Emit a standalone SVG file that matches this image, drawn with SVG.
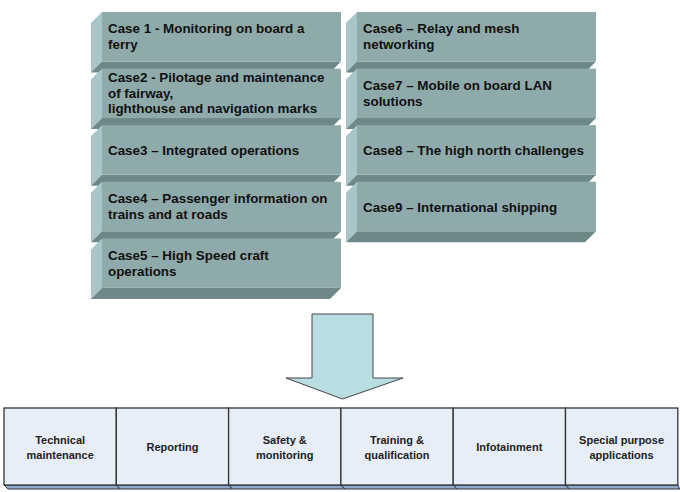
<svg xmlns="http://www.w3.org/2000/svg" width="680" height="492" viewBox="0 0 680 492">
<defs>
<style>
.front{fill:#8FAAAA;}
.side{fill:#A8C6CA;}
.bot{fill:#6E8787;}
.ct{font-family:"Liberation Sans",Arial,sans-serif;font-weight:bold;font-size:13.4px;fill:#111;}
.cell{fill:#E8EEF8;stroke:#333;stroke-width:1.3;}
.cb{fill:#8FA8D0;stroke:#333;stroke-width:1;}
.bt{font-family:"Liberation Sans",Arial,sans-serif;font-weight:bold;font-size:11px;fill:#222;text-anchor:middle;}
.arrow{fill:#B8DEE2;stroke:#444;stroke-width:1;}
</style>
</defs>
<rect width="680" height="492" fill="#fff"/>

<g id="case1">
<polygon class="side" points="91,23 102,12 102,61.5 91,72.5"/>
<polygon class="bot" points="91,72.5 102,61.5 341,61.5 330,72.5"/>
<rect class="front" x="102" y="12" width="239" height="49.5"/>
<text class="ct" x="108" y="33">Case 1 - Monitoring on board a</text>
<text class="ct" x="108" y="49">ferry</text>
</g>
<g id="case2">
<polygon class="side" points="91,79.6 102,68.6 102,118.1 91,129.1"/>
<polygon class="bot" points="91,129.1 102,118.1 341,118.1 330,129.1"/>
<rect class="front" x="102" y="68.6" width="239" height="49.5"/>
<text class="ct" x="108" y="82">Case2 - Pilotage and maintenance</text>
<text class="ct" x="108" y="97.5">of fairway,</text>
<text class="ct" x="108" y="113">lighthouse and navigation marks</text>
</g>
<g id="case3">
<polygon class="side" points="91,136.2 102,125.2 102,174.7 91,185.7"/>
<polygon class="bot" points="91,185.7 102,174.7 341,174.7 330,185.7"/>
<rect class="front" x="102" y="125.2" width="239" height="49.5"/>
<text class="ct" x="108" y="155">Case3 – Integrated operations</text>
</g>
<g id="case4">
<polygon class="side" points="91,192.8 102,181.8 102,231.3 91,242.3"/>
<polygon class="bot" points="91,242.3 102,231.3 341,231.3 330,242.3"/>
<rect class="front" x="102" y="181.8" width="239" height="49.5"/>
<text class="ct" x="108" y="203">Case4 – Passenger information on</text>
<text class="ct" x="108" y="219">trains and at roads</text>
</g>
<g id="case5">
<polygon class="side" points="91,249.4 102,238.4 102,287.9 91,298.9"/>
<polygon class="bot" points="91,298.9 102,287.9 341,287.9 330,298.9"/>
<rect class="front" x="102" y="238.4" width="239" height="49.5"/>
<text class="ct" x="108" y="260">Case5 – High Speed craft</text>
<text class="ct" x="108" y="276">operations</text>
</g>

<g id="case6">
<polygon class="side" points="346,23 357,12 357,61.5 346,72.5"/>
<polygon class="bot" points="346,72.5 357,61.5 596,61.5 585,72.5"/>
<rect class="front" x="357" y="12" width="239" height="49.5"/>
<text class="ct" x="363" y="33">Case6 – Relay and mesh</text>
<text class="ct" x="363" y="49">networking</text>
</g>
<g id="case7">
<polygon class="side" points="346,79.6 357,68.6 357,118.1 346,129.1"/>
<polygon class="bot" points="346,129.1 357,118.1 596,118.1 585,129.1"/>
<rect class="front" x="357" y="68.6" width="239" height="49.5"/>
<text class="ct" x="363" y="90">Case7 – Mobile on board LAN</text>
<text class="ct" x="363" y="106">solutions</text>
</g>
<g id="case8">
<polygon class="side" points="346,136.2 357,125.2 357,174.7 346,185.7"/>
<polygon class="bot" points="346,185.7 357,174.7 596,174.7 585,185.7"/>
<rect class="front" x="357" y="125.2" width="239" height="49.5"/>
<text class="ct" x="363" y="155">Case8 – The high north challenges</text>
</g>
<g id="case9">
<polygon class="side" points="346,192.8 357,181.8 357,231.3 346,242.3"/>
<polygon class="bot" points="346,242.3 357,231.3 596,231.3 585,242.3"/>
<rect class="front" x="357" y="181.8" width="239" height="49.5"/>
<text class="ct" x="363" y="212">Case9 – International shipping</text>
</g>

<g id="connectors">
<polygon class="arrow" points="312,314 373,314 373,378 403,378 342.5,399 286,378 312,378"/>
</g>

<g id="app1">
<polygon class="cb" points="4,485 116.3,485 120.3,489 8,489"/>
<rect class="cell" x="4" y="408" width="112.3" height="77"/>
<text class="bt" x="60.2" y="444">Technical</text>
<text class="bt" x="60.2" y="459">maintenance</text>
</g>
<g id="app2">
<polygon class="cb" points="116.3,485 228.6,485 232.6,489 120.3,489"/>
<rect class="cell" x="116.3" y="408" width="112.3" height="77"/>
<text class="bt" x="172.5" y="451">Reporting</text>
</g>
<g id="app3">
<polygon class="cb" points="228.6,485 340.9,485 344.9,489 232.6,489"/>
<rect class="cell" x="228.6" y="408" width="112.3" height="77"/>
<text class="bt" x="284.8" y="444">Safety &amp;</text>
<text class="bt" x="284.8" y="459">monitoring</text>
</g>
<g id="app4">
<polygon class="cb" points="340.9,485 453.2,485 457.2,489 344.9,489"/>
<rect class="cell" x="340.9" y="408" width="112.3" height="77"/>
<text class="bt" x="397" y="444">Training &amp;</text>
<text class="bt" x="397" y="459">qualification</text>
</g>
<g id="app5">
<polygon class="cb" points="453.2,485 565.5,485 569.5,489 457.2,489"/>
<rect class="cell" x="453.2" y="408" width="112.3" height="77"/>
<text class="bt" x="509.3" y="451">Infotainment</text>
</g>
<g id="app6">
<polygon class="cb" points="565.5,485 677.8,485 679.8,489 569.5,489"/>
<rect class="cell" x="565.5" y="408" width="112.3" height="77"/>
<text class="bt" x="621.6" y="444">Special purpose</text>
<text class="bt" x="621.6" y="459">applications</text>
</g>
</svg>
